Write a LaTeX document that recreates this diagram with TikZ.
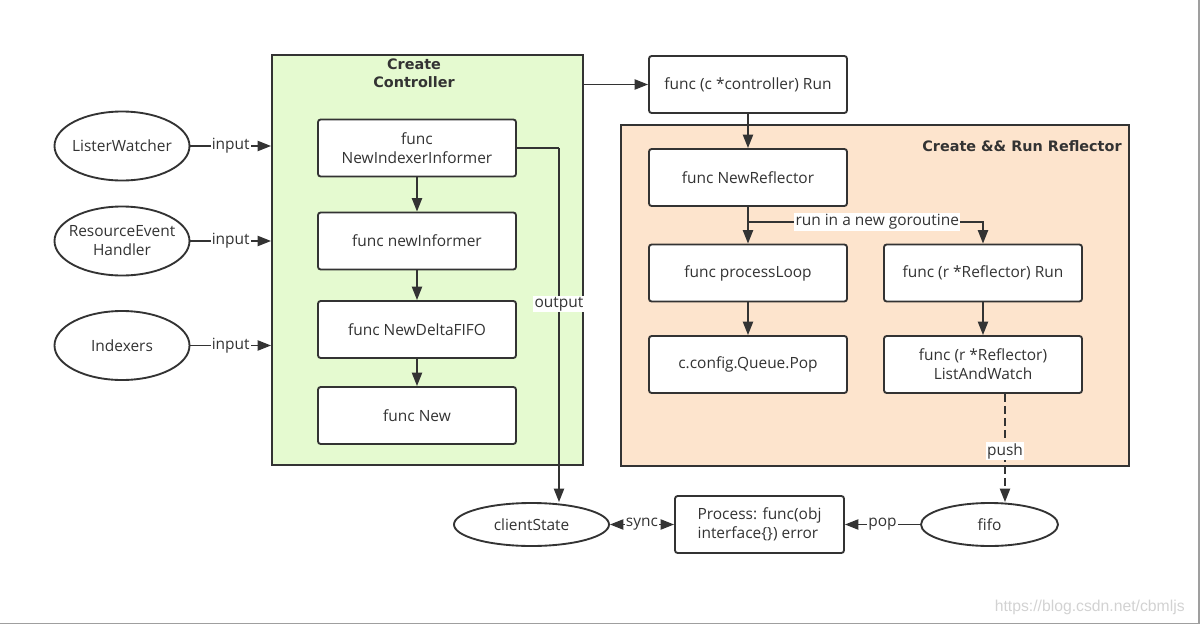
\documentclass[tikz,border=0pt]{standalone}
\usepackage{fontspec}
\setmainfont{Open Sans}
\newfontfamily\titlefont{DejaVu Sans}
\newfontfamily\markfont{Liberation Sans}
\usetikzlibrary{arrows.meta, shapes.geometric, fit}
\definecolor{ctrlgreen}{RGB}{229,250,208}
\definecolor{reflorange}{RGB}{253,228,205}
\definecolor{ink}{RGB}{51,51,51}
\begin{document}
\begin{tikzpicture}[x = 0.75pt, y = -0.75pt, line width = 1.4pt, draw = ink,
        font = \fontsize{11.6}{14.25}\selectfont, > = {Triangle[length = 10pt, width = 7.5pt]},
        func/.style = {draw = ink, fill = white, rounded corners = 2pt, minimum width = 148.5pt,
            minimum height = 42.75pt, align = center, text = ink, inner sep = 0pt},
        src/.style = {ellipse, draw = ink, fill = white, minimum width = 101.25pt,
            minimum height = 51.75pt, align = center, text = ink, inner xsep = -10pt, inner ysep = 0pt},
        group/.style = {draw = ink, inner sep = 0pt},
        title/.style = {font = \titlefont\bfseries\fontsize{10.8}{13.5}\selectfont, text = ink, align = center},
        lbl/.style = {fill = white, inner sep = 1pt, text = ink}]
    \useasboundingbox (0, 0) rectangle (1200, 625);
    \node (ctrl) [group, fill = ctrlgreen, fit = {(272, 55) (583, 465)}] {};
    \node (refl) [group, fill = reflorange, fit = {(621, 125) (1129, 466)}] {};
    \node (ctrltitle) [title] at (414, 73.5) {Create\\Controller};
    \node (refltitle) [title, anchor = east] at (1127, 146) {Create \&\& Run Reflector};
    \node (lw) [src] at (122, 146) {ListerWatcher};
    \node (reh) [src] at (122, 241) {ResourceEvent\\Handler};
    \node (idx) [src] at (122, 345.5) {Indexers};
    \node (nii) [func] at (417, 148) {func\\NewIndexerInformer};
    \node (ni) [func] at (417, 241) {func newInformer};
    \node (ndf) [func] at (417, 329.5) {func NewDeltaFIFO};
    \node (nw) [func] at (417, 415.5) {func New};
    \node (run) [func] at (748, 84.5) {func (c *controller) Run};
    \node (nr) [func] at (748, 177.5) {func NewReflector};
    \node (pl) [func] at (748, 273) {func processLoop};
    \node (qp) [func] at (748, 364.5) {c.config.Queue.Pop};
    \node (rr) [func] at (983, 273) {func (r *Reflector) Run};
    \node (law) [func] at (983, 364.5) {func (r *Reflector)\\ListAndWatch};
    \node (cs) [src, minimum width = 116.25pt, minimum height = 32.25pt] at (531.5, 524.5) {clientState};
    \node (proc) [func, minimum width = 126.75pt, align = left] at (759.5, 524.5) {Process: func(obj\\interface\{\}) error};
    \node (fifo) [src, minimum width = 102.75pt, minimum height = 32.25pt] at (989.5, 524.5) {fifo};
    \coordinate (outx) at (559, 148);
    \coordinate (fork) at (748, 222);
    \coordinate (pushx) at (1005, 0);
    \draw [->] (lw.east) -- node [lbl] {input} (lw -| ctrl.west);
    \draw [->] (reh.east) -- node [lbl] {input} (reh -| ctrl.west);
    \draw [->] (idx.east) -- node [lbl] {input} (idx -| ctrl.west);
    \draw [->] (nii) -- (ni);
    \draw [->] (ni) -- (ndf);
    \draw [->] (ndf) -- (nw);
    \draw (nii.east) -- (outx);
    \draw [->] (outx) -- node [lbl, pos = 0.44] {output} (outx |- cs.north);
    \draw [->] (ctrl.east |- run) -- (run.west);
    \draw [->] (run) -- (nr);
    \draw [->] (nr) -- (pl);
    \draw [->] (fork) -- node [lbl, pos = 0.55] {run in a new goroutine} (fork -| rr.north) -- (rr.north);
    \draw [->] (pl) -- (qp);
    \draw [->] (rr) -- (law);
    \draw [->, dash pattern = on 6pt off 3pt] (law.south -| pushx) -- node [lbl, pos = 0.53] {push} (fifo.north -| pushx);
    \draw [->] (fifo.west) -- node [lbl] {pop} (proc.east);
    \draw [<->] (cs.east) -- node [lbl] {sync} (proc.west);
    \node (mark) [anchor = east, text = gray!35, font = \markfont\fontsize{11.8}{14}\selectfont] at (1190, 607) {https://blog.csdn.net/cbmljs};
    \draw [gray!75, line width = 1.1pt] (0, 623.5) -- (1199, 623.5) -- (1199, 0);
\end{tikzpicture}
\end{document}
